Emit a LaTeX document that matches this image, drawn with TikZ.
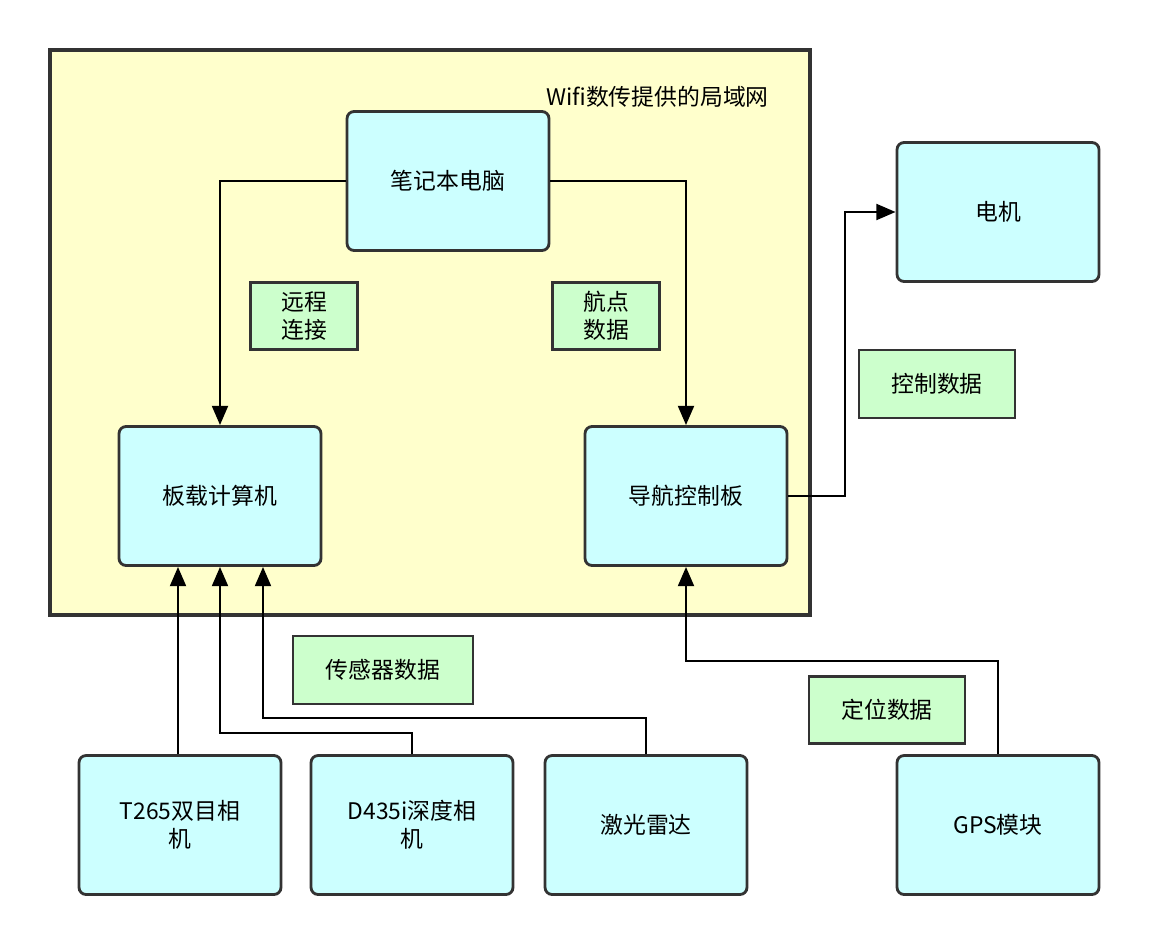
\documentclass[tikz,border=0pt]{standalone}
\usepackage{fontspec}
\setmainfont{Noto Sans CJK SC}
\usetikzlibrary{arrows.meta, positioning}
\definecolor{lanyellow}{HTML}{FFFFCC}
\definecolor{boxcyan}{HTML}{CCFFFF}
\definecolor{tagGreen}{HTML}{CCFFCC}
\definecolor{edge}{HTML}{333333}
\begin{document}
\begin{tikzpicture}[x=0.02cm, y=-0.02cm, font=\fontsize{13}{16}\selectfont,
    unit/.style={draw=edge, fill=boxcyan, line width=1.6pt, rounded corners=4pt,
        minimum width=4.04cm, minimum height=2.78cm, align=center, inner sep=2pt, text width=3.6cm},
    tag/.style={draw=edge, fill=tagGreen, line width=1.2pt, align=center, inner sep=2pt},
    link/.style={draw=black, line width=1.6pt, -{Triangle[length=11pt, width=9pt]}}]
    \useasboundingbox (0,0) rectangle (1149,946);
    % LAN frame
    \draw[edge, fill=lanyellow, line width=1.8pt] (50,50) rectangle (810,615);
    \node[anchor=east] (lan) at (775,97) {Wifi数传提供的局域网};
    % units
    \node[unit] (laptop) at (448,181) {笔记本电脑};
    \node[unit] (motor) at (998,212) {电机};
    \node[unit] (onboard) at (220,496) {板载计算机};
    \node[unit] (navctl) at (686,496) {导航控制板};
    \node[unit] (t265) at (180,825) {T265双目相\\机};
    \node[unit] (d435) at (412,825) {D435i深度相\\机};
    \node[unit] (lidar) at (646,825) {激光雷达};
    \node[unit] (gps) at (998,825) {GPS模块};
    % tags
    \node[tag, minimum width=2.14cm, minimum height=1.34cm] (remote) at (304,316) {远程\\连接};
    \node[tag, minimum width=2.14cm, minimum height=1.34cm] (waypt) at (606,316) {航点\\数据};
    \node[tag, minimum width=3.12cm, minimum height=1.36cm] (ctrl) at (937,384) {控制数据};
    \node[tag, minimum width=3.6cm, minimum height=1.36cm] (sensor) at (383,670) {传感器数据};
    \node[tag, minimum width=3.12cm, minimum height=1.34cm] (locate) at (887,710) {定位数据};
    % connectors
    \draw[link] (laptop.west) -| (onboard.north -| 220,0);
    \draw[link] (laptop.east) -| (navctl.north);
    \draw[link] (navctl.east) -- (845,496) |- (motor.west);
    \draw[link] (t265.north -| 178,0) -- (onboard.south -| 178,0);
    \draw[link] (d435.north) -- (412,733) -| (onboard.south -| 220,0);
    \draw[link] (lidar.north) -- (646,718) -| (onboard.south -| 263,0);
    \draw[link] (gps.north) -- (998,661) -| (navctl.south);
\end{tikzpicture}
\end{document}
